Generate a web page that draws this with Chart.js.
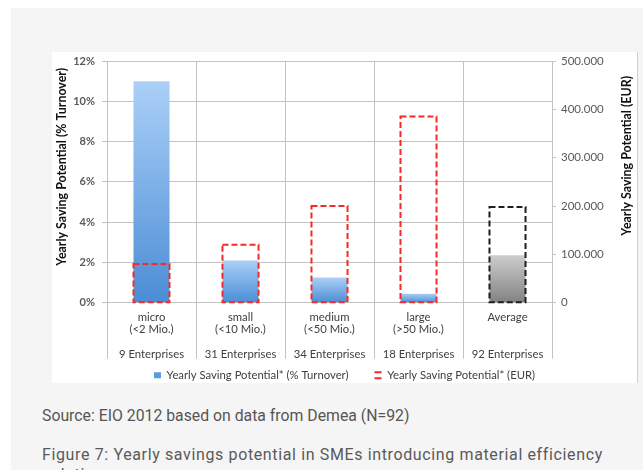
<!DOCTYPE html>
<html><head><meta charset="utf-8">
<script src="https://cdn.jsdelivr.net/npm/chart.js@4.4.1/dist/chart.umd.min.js"></script>
<style>
html,body{margin:0;padding:0;width:643px;height:470px;overflow:hidden;background:#fff;}
#panel{position:absolute;left:11px;top:8px;width:632px;height:462px;background:#f5f5f5;}
#card{position:absolute;left:52px;top:52px;width:585px;height:331px;background:#fff;border-right:1px solid #d0d0d0;}
#wrap{position:absolute;left:52px;top:52px;width:585px;height:340px;}
.txt{position:absolute;left:42px;margin:0;font-family:Roboto,'Liberation Sans',sans-serif;color:#555;white-space:nowrap;}
#src{top:406px;font-size:15.8px;line-height:20px;}
#fig{top:445px;font-size:16px;letter-spacing:0.63px;line-height:20px;color:#5a5a5a;}
</style></head>
<body>
<div id="panel"></div><div id="card"></div>
<div id="wrap"><canvas id="c" width="585" height="340"></canvas></div>
<p class="txt" id="src">Source: EIO 2012 based on data from Demea (N=92)</p>
<p class="txt" id="fig">Figure 7: Yearly savings potential in SMEs introducing material efficiency<br>solutions</p>
<script>
// ---- data ----
const sizeNames   = ['micro', 'small', 'medium', 'large', 'Average'];
const sizeRanges  = ['(<2 Mio.)', '(<10 Mio.)', '(<50 Mio.)', '(>50 Mio.)', ''];
const enterprises = ['9 Enterprises', '31 Enterprises', '34 Enterprises', '18 Enterprises', '92 Enterprises'];
const turnoverPct = [11.0, 2.1, 1.25, 0.45, 2.35];           // % of turnover (left axis)
const savingEUR   = [80000, 120000, 200000, 385000, 198000];  // EUR (right axis)
const leftTicks   = ['0%', '2%', '4%', '6%', '8%', '10%', '12%'];
const rightTicks  = ['0', '100.000', '200.000', '300.000', '400.000', '500.000'];
const seriesNames = ['Yearly Saving Potential* (% Turnover)', 'Yearly Saving Potential* (EUR)'];
const axisTitles  = ['Yearly Saving Potential (% Turnover)', 'Yearly Saving Potential (EUR)'];

const labels = sizeNames.map((n, i) => [n, sizeRanges[i], '', enterprises[i]]);
const isAverage = sizeNames.map(n => n === 'Average');

function barGradient(c) {
  const chart = c.chart;
  const avg = isAverage[c.dataIndex];
  const top = avg ? '#cdcdcd' : '#abd0f7';
  const bot = avg ? '#828282' : '#4b8dd5';
  if (!chart.chartArea || c.type !== 'data') return bot;
  const ys = chart.scales.y;
  const y0 = ys.getPixelForValue(c.raw);
  const y1 = ys.getPixelForValue(0);
  if (!isFinite(y0) || !isFinite(y1) || y1 - y0 < 1) return bot;
  const g = chart.ctx.createLinearGradient(0, y0, 0, y1);
  g.addColorStop(0, top);
  g.addColorStop(1, bot);
  return g;
}

const dashedBars = {
  id: 'dashedBars',
  afterDatasetsDraw(chart) {
    const meta = chart.getDatasetMeta(1);
    const ctx = chart.ctx;
    ctx.save();
    ctx.lineWidth = 2;
    ctx.setLineDash([6, 3]);
    meta.data.forEach((el, i) => {
      const p = el.getProps(['x', 'y', 'base', 'width'], true);
      ctx.strokeStyle = isAverage[i] ? '#1e1e1e' : '#f42a2a';
      ctx.strokeRect(p.x - p.width / 2, p.y, p.width, p.base - p.y);
    });
    ctx.restore();
  }
};

const axisTitlePlugin = {
  id: 'axisTitles',
  afterDraw(chart) {
    const ctx = chart.ctx;
    const ca = chart.chartArea;
    ctx.save();
    ctx.font = 'bold 12.4px Lato, "Open Sans", sans-serif';
    ctx.fillStyle = '#111';
    ctx.textAlign = 'center';
    ctx.textBaseline = 'middle';
    const mid = (ca.top + ca.bottom) / 2;
    ctx.save();
    ctx.translate(chart.scales.y.left + 10, mid - 15);
    ctx.rotate(-Math.PI / 2);
    ctx.fillText(axisTitles[0], 0, 0);
    ctx.restore();
    ctx.save();
    ctx.translate(chart.scales.y2.right - 10, mid - 26);
    ctx.rotate(-Math.PI / 2);
    ctx.fillText(axisTitles[1], 0, 0);
    ctx.restore();
    ctx.restore();
  }
};

const gridCol = '#c3c3c3';
new Chart(document.getElementById('c'), {
  type: 'bar',
  data: {
    labels: labels,
    datasets: [
      { label: seriesNames[0], data: turnoverPct, yAxisID: 'y', grouped: false,
        backgroundColor: barGradient, borderWidth: 0,
        barPercentage: 0.405, categoryPercentage: 1 },
      { label: seriesNames[1], data: savingEUR, yAxisID: 'y2', grouped: false,
        backgroundColor: 'rgba(0,0,0,0)', borderWidth: 0,
        barPercentage: 0.405, categoryPercentage: 1 }
    ]
  },
  options: {
    responsive: false,
    animation: false,
    devicePixelRatio: 1,
    layout: { padding: { top: 9, left: 0, right: 0, bottom: 1 } },
    plugins: {
      tooltip: { enabled: false },
      legend: {
        position: 'bottom',
        labels: {
          font: { family: 'Lato', size: 11.3 },
          color: '#404040',
          boxWidth: 7, boxHeight: 6,
          padding: 26,
          generateLabels: () => [
            { text: seriesNames[0], fillStyle: '#5b9be0', strokeStyle: '#5b9be0', lineWidth: 0, datasetIndex: 0, fontColor: '#404040' },
            { text: seriesNames[1], fillStyle: 'rgba(0,0,0,0)', strokeStyle: '#f42a2a', lineWidth: 2, lineDash: [7, 6], datasetIndex: 1, fontColor: '#404040' }
          ]
        }
      }
    },
    scales: {
      x: {
        grid: { color: gridCol, lineWidth: 1, offset: true, tickLength: 56, drawTicks: true },
        border: { display: false },
        ticks: { padding: -47, color: '#404040', font: { family: 'Lato', size: 11.3, lineHeight: 1.07 }, maxRotation: 0, autoSkip: false },
        afterFit: s => { s.height = 41; },
        afterUpdate: s => { s._computeLabelArea = () => undefined; }
      },
      y: {
        position: 'left', min: 0, max: 12,
        ticks: { stepSize: 2, padding: 7, color: '#5a5a5a', font: { family: 'Lato', size: 11, weight: 'bold', lineHeight: 0.3 },
                 callback: (v, i) => leftTicks[i] },
        grid: { color: gridCol, tickLength: 5 },
        border: { display: false },
        afterFit: s => { s.width = 55; }
      },
      y2: {
        position: 'right', min: 0, max: 500000,
        ticks: { stepSize: 100000, padding: 5, color: '#5a5a5a', font: { family: 'Lato', size: 11.5, lineHeight: 0.5 },
                 callback: (v, i) => rightTicks[i] },
        grid: { drawOnChartArea: false, color: gridCol, tickLength: 4 },
        border: { display: true, color: gridCol },
        afterFit: s => { s.width = 85; }
      }
    }
  },
  plugins: [dashedBars, axisTitlePlugin]
});
</script>
</body></html>
